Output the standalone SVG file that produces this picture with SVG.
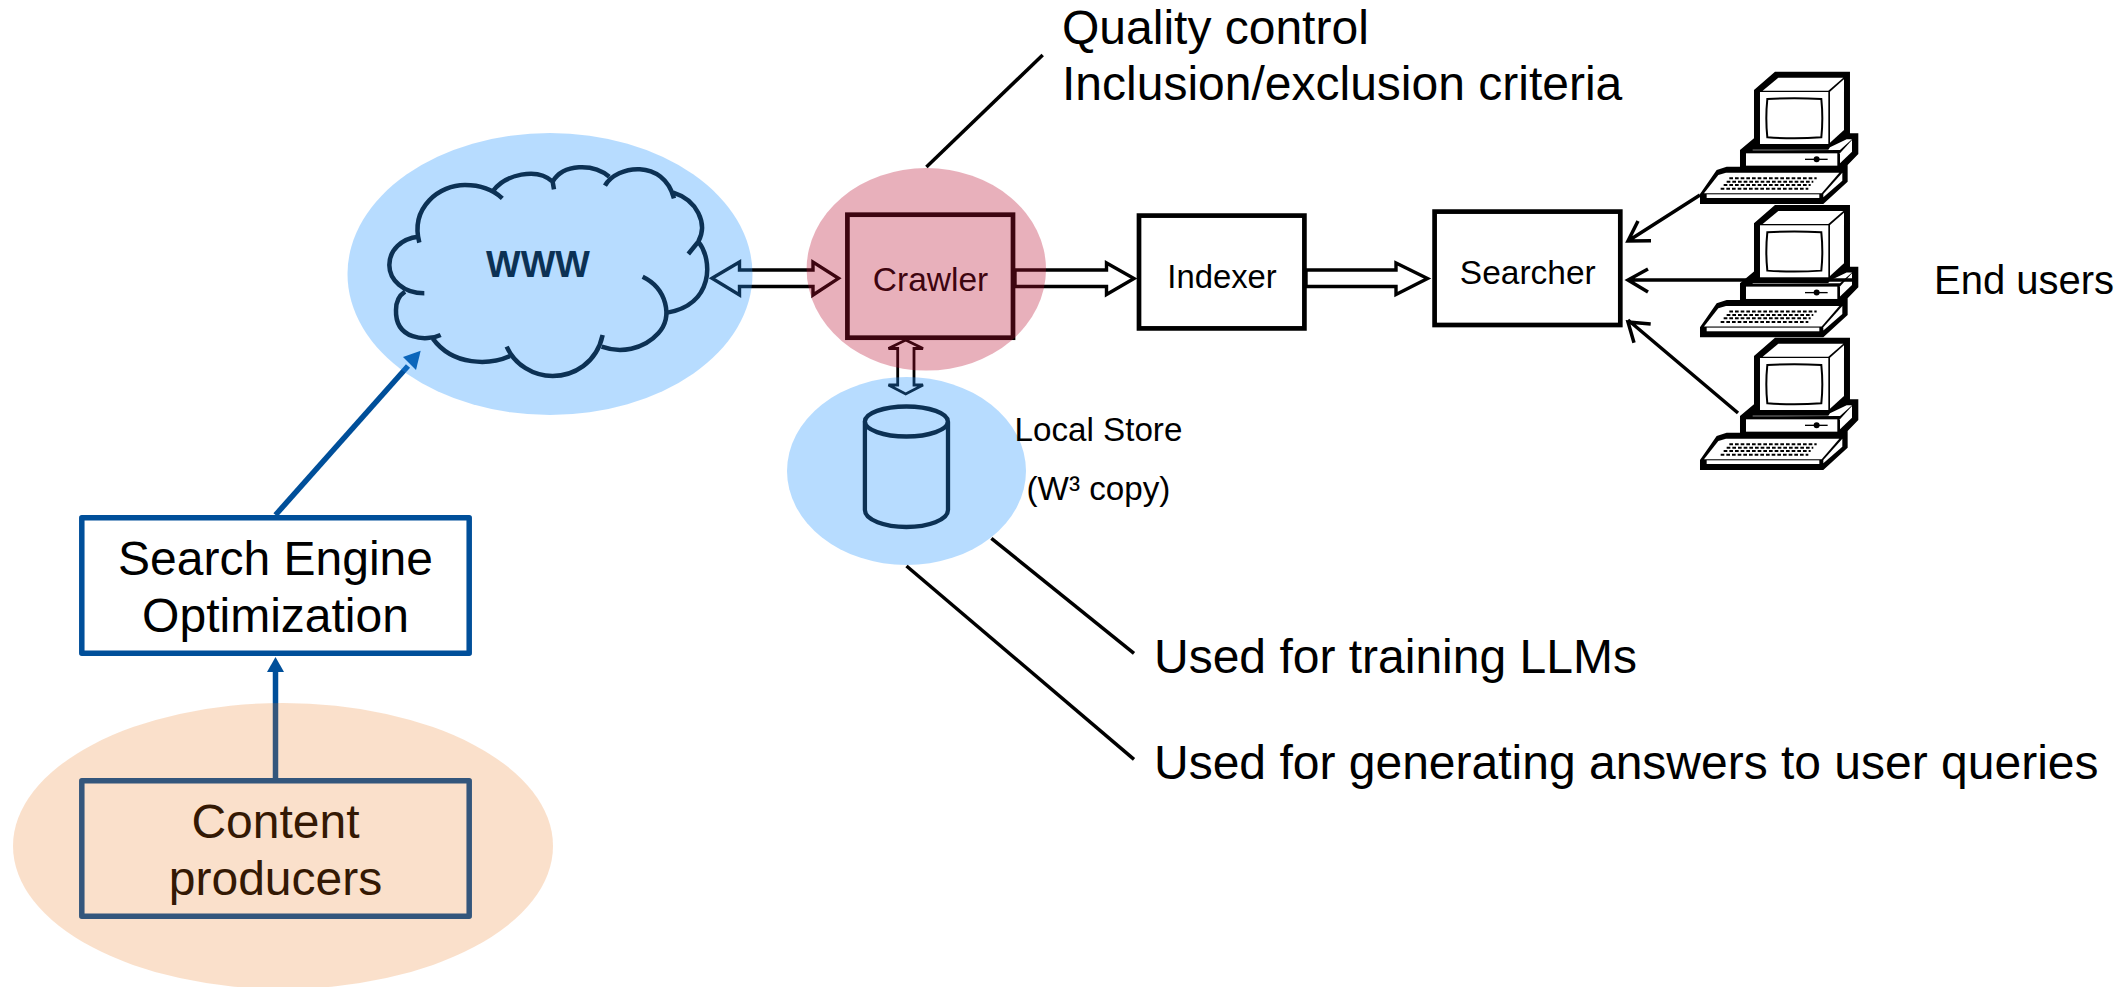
<svg xmlns="http://www.w3.org/2000/svg" xmlns:xlink="http://www.w3.org/1999/xlink" width="2121" height="987" viewBox="0 0 2121 987">
<style>
text{font-family:"Liberation Sans",Arial,sans-serif;fill:#000}
.lg{font-size:48px}
.md{font-size:33.5px}
.mid{text-anchor:middle}
.box{fill:#fff;stroke:#000;stroke-width:4.7}
.seo{fill:#fff;stroke:#004f9a;stroke-width:5.5;stroke-linejoin:round}
.ln{fill:none;stroke:#000;stroke-width:3.5}
.thin{fill:none;stroke:#000;stroke-width:2.6}
.hollow{fill:#fff;stroke:#000;stroke-width:3.4}
.hollowthin{fill:#fff;stroke:#000;stroke-width:2.8}
.bl{fill:none;stroke:#004f9a;stroke-width:5.5}
.ov-blue{fill:#2496ff;opacity:.33}
.ov-red{fill:#b90f30;opacity:.33}
.ov-orange{fill:#e67314;opacity:.22}
.cloud path{fill:none;stroke:#000;stroke-width:13.5}
.w{fill:#fff}
</style>
<defs>
<g id="pc">
<polygon fill="#000" points="222,120 285,65 510,65 510,250 535,250 535,312 503,345 503,395 430,462 60,462 60,432 110,360 140,350 180,350 180,300 222,265"/>
<rect class="w" x="240" y="126" width="205" height="156"/>
<path d="M262,147Q343,142 424,147Q430,205 424,262Q343,268 262,262Q256,205 262,147Z" fill="#fff" stroke="#000" stroke-width="6"/>
<polygon class="w" points="248,122 295,83 490,83 445,122"/>
<polygon class="w" points="450,125 492,88 492,240 450,278"/>
<polygon class="w" points="218,299 445,299 450,292 500,268 516,268 480,300 218,301"/>
<rect class="w" x="198" y="310" width="274" height="37"/>
<polygon class="w" points="480,310 516,270 516,305 480,340"/>
<path d="M375,328H443" stroke="#000" stroke-width="4" fill="none"/>
<circle cx="410" cy="328" r="9" fill="#000"/>
<polygon class="w" points="72,430 115,375 138,368 478,368 425,430"/>
<rect class="w" x="80" y="433" width="338" height="11"/>
<polygon class="w" points="430,432 487,368 487,392 430,442"/>
<path d="M148,385H410M140,395H400M131,405H392M122,416H385" stroke="#000" stroke-width="6" stroke-dasharray="11 6" fill="none"/>
</g>
</defs>
<rect width="2121" height="987" fill="#fff"/>
<g id="end-users">
<use href="#pc" transform="translate(1680,50) scale(.3333)"/>
<use href="#pc" transform="translate(1680,183.3) scale(.3333)"/>
<use href="#pc" transform="translate(1680,316) scale(.3333)"/>
<text style="font-size:40px" x="1934" y="293.5">End users</text>
</g>
<g id="connectors">
<path class="ln" d="M1042.7,55L926.4,167"/>
<path class="ln" d="M991.4,538.3L1134,653.3"/>
<path class="ln" d="M906.5,566L1134,759.3"/>
<path class="ln" d="M1700,195L1628,241M1638,221L1628,241L1651,240.7"/>
<path class="ln" d="M1853,280H1628M1648,269L1628,280L1648,292"/>
<path class="ln" d="M1738,413L1628,320M1634,342.7L1628,322L1650.7,324"/>
<polygon class="hollow" points="712,278.3 739.5,262 739.5,270 813,270 813,262 838.5,278.3 813,295 813,286.5 739.5,286.5 739.5,295"/>
<polygon class="hollow" points="1015,270 1106.5,270 1106.5,263 1134,278.5 1106.5,294.5 1106.5,286.5 1015,286.5"/>
<polygon class="hollow" points="1306,270 1396,270 1396,263 1427.5,278.5 1396,294.5 1396,286.5 1306,286.5"/>
<polygon class="hollowthin" points="905.7,340 923,348.5 914,348.5 914,385 923,385 905.7,394 888.5,385 897.7,385 897.7,348.5 888.5,348.5"/>
<path class="bl" d="M275.5,515L408,366"/>
<polygon fill="#004f9a" points="420.7,350.7 403,357 416,370"/>
<path class="bl" d="M275.5,778V670"/>
<polygon fill="#004f9a" points="275.5,657 267,672 284,672"/>
</g>
<g id="www">
<g class="cloud" transform="translate(330,120) scale(.3333)">
<path d="M268,368C240,260 330,195 405,195C450,195 490,210 517,235"/>
<path d="M490,212C525,165 620,140 668,185L672,208"/>
<path d="M668,185C700,130 790,130 838,170"/>
<path d="M825,197C860,135 1000,115 1032,235"/>
<path d="M1030,218C1100,240 1135,310 1105,365L1075,402"/>
<path d="M1105,365C1150,420 1150,555 1012,578"/>
<path d="M938,470C1010,505 1030,590 985,640C940,690 870,700 815,680"/>
<path d="M818,645C800,730 730,768 668,768C610,768 555,735 530,680"/>
<path d="M540,708C480,735 370,740 308,655"/>
<path d="M332,645C290,665 195,660 198,570C198,545 210,525 225,515"/>
<path d="M283,520C220,520 178,480 178,435C178,390 215,355 265,350"/>
</g>
<text x="538" y="276.7" class="mid" style="font-size:36.7px;font-weight:bold">WWW</text>
<ellipse class="ov-blue" cx="550" cy="274" rx="202.5" ry="141"/>
</g>
<g id="crawler">
<rect class="box" x="847.4" y="214.7" width="165.6" height="123"/>
<text class="md mid" x="930.5" y="291">Crawler</text>
<ellipse class="ov-red" cx="926.3" cy="269.3" rx="119.7" ry="101.3"/>
</g>
<g id="indexer">
<rect class="box" x="1139" y="215.6" width="165.4" height="112.8"/>
<text class="md mid" style="font-size:32.8px" x="1222" y="288">Indexer</text>
</g>
<g id="searcher">
<rect class="box" x="1434.6" y="211.6" width="185.7" height="113.4"/>
<text class="md mid" x="1527.8" y="284.3">Searcher</text>
</g>
<g id="local-store">
<ellipse cx="906.4" cy="421.5" rx="41.5" ry="15" class="ln" style="stroke-width:4.3"/>
<path class="ln" style="stroke-width:4.3" d="M864.9,421.5V510C864.9,520 885,527 906.4,527C928,527 948,520 948,510V421.5"/>
<ellipse class="ov-blue" cx="906.5" cy="471" rx="119.5" ry="94"/>
<text style="font-size:33.2px" x="1014.5" y="441">Local Store</text>
<text style="font-size:33.2px" x="1026.5" y="500.3">(W³ copy)</text>
</g>
<g id="seo">
<rect class="seo" x="81.8" y="517.8" width="387.4" height="135.4"/>
<text class="lg mid" x="275.5" y="575.3">Search Engine</text>
<text class="lg mid" x="275.5" y="632">Optimization</text>
</g>
<g id="content-producers">
<rect class="seo" x="81.8" y="780.8" width="387.4" height="135.4"/>
<text class="lg mid" x="275.5" y="838">Content</text>
<text class="lg mid" x="275.5" y="895">producers</text>
<ellipse class="ov-orange" cx="283" cy="846" rx="270" ry="143"/>
</g>
<g id="notes">
<text class="lg" x="1062" y="44">Quality control</text>
<text class="lg" x="1062" y="100">Inclusion/exclusion criteria</text>
<text class="lg" x="1154" y="673">Used for training LLMs</text>
<text class="lg" x="1154" y="779">Used for generating answers to user queries</text>
</g>
</svg>
